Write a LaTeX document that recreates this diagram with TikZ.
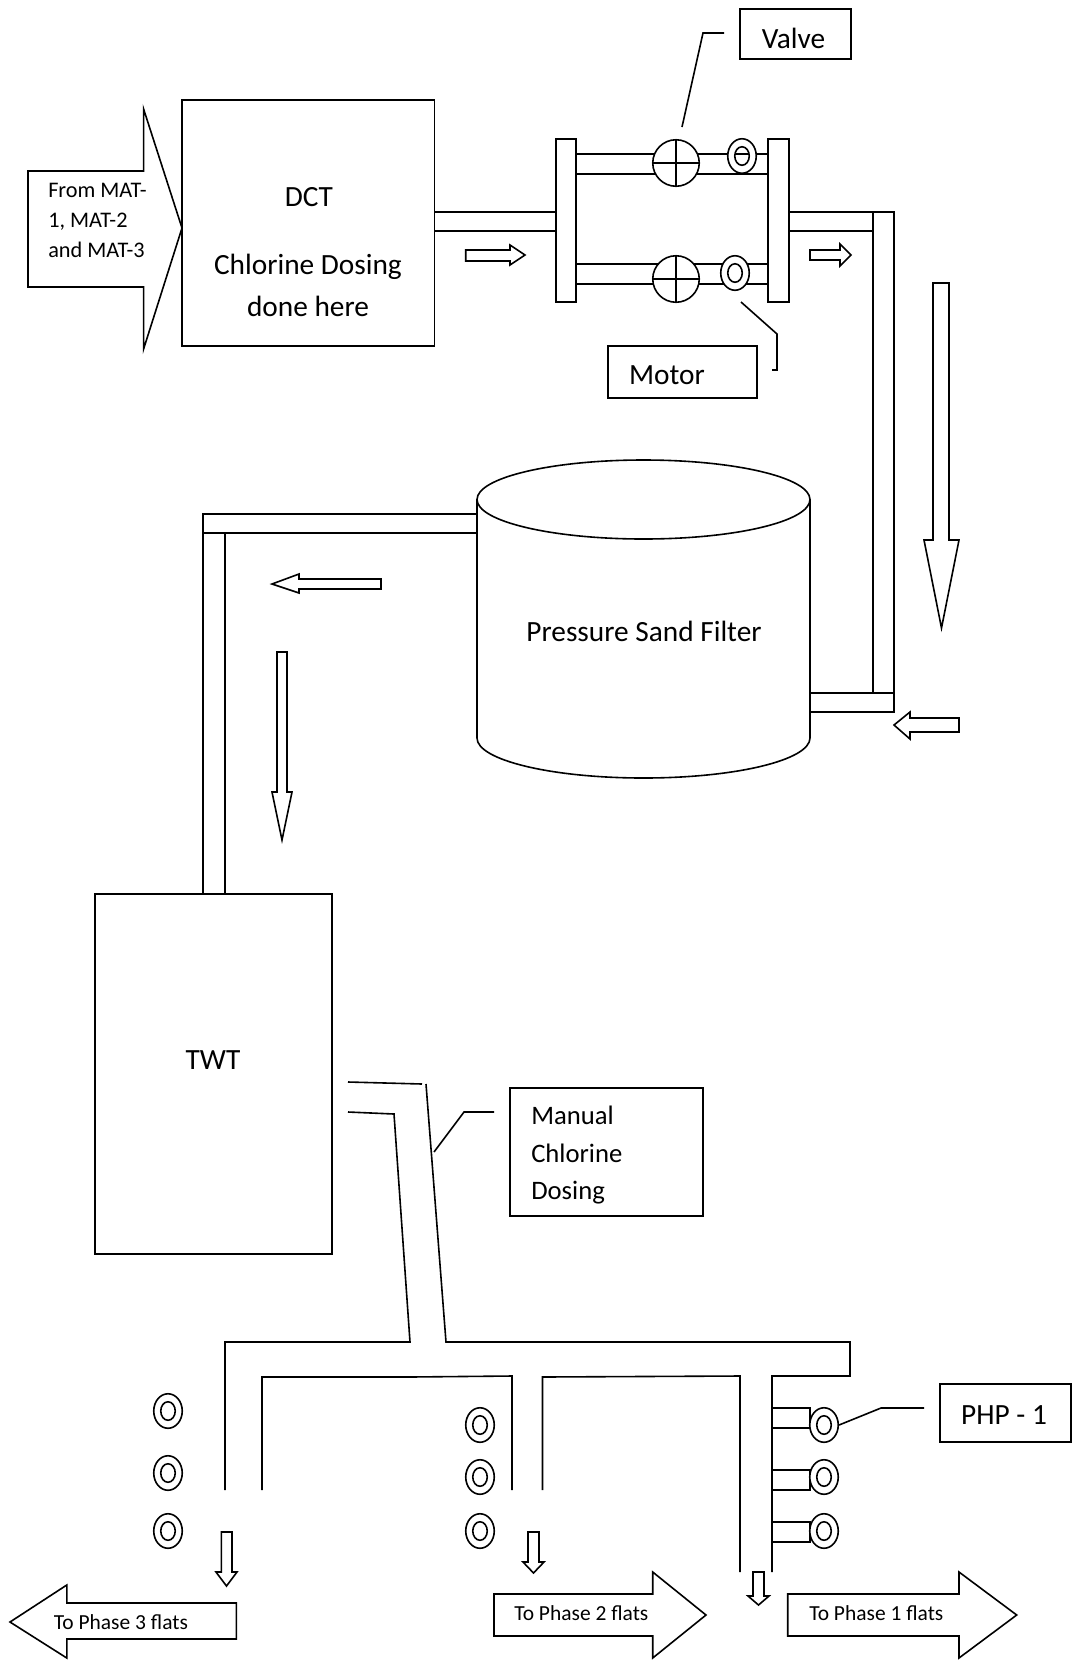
\documentclass[tikz,border=0pt]{standalone}
\usepackage{fontspec}
\setmainfont{Carlito}
\tikzset{
  pipe/.style={line width=1.2pt,line join=miter,fill=white},
  wire/.style={line width=1.2pt,line join=miter},
  boxn/.style={draw,line width=1.2pt,fill=white,inner sep=0pt},
  lab/.style={inner sep=0pt,anchor=base,font=\fontsize{22}{22}\selectfont},
  labl/.style={inner sep=0pt,anchor=base west,font=\fontsize{20}{20}\selectfont},
  smalll/.style={inner sep=0pt,anchor=base west,font=\fontsize{16.7}{16.7}\selectfont},
  phasel/.style={inner sep=0pt,anchor=base west,font=\fontsize{16.1}{16.1}\selectfont},
  pumpo/.style={draw,ellipse,line width=1.2pt,fill=white,inner sep=0pt,minimum width=28.5*0.75pt,minimum height=34.5*0.75pt},
  pumpi/.style={draw,ellipse,line width=1.2pt,fill=white,inner sep=0pt,minimum width=14.5*0.75pt,minimum height=18.5*0.75pt},
  valvec/.style={draw,circle,line width=1.2pt,fill=white,inner sep=0pt,minimum size=46.5*0.75pt},
}
\usetikzlibrary{shapes.geometric}
\newcommand{\pumpat}[3]{\node[pumpo] (#1) at (#2,#3) {};\node[pumpi] (#1i) at (#2,#3) {};}
\begin{document}
\begin{tikzpicture}[x=0.75pt,y=-0.75pt]
\useasboundingbox (0,0) rectangle (1072,1664);

% inlet arrow
\draw[pipe] (28,171)--(143.6,171)--(143.6,109)--(182,228)--(143.6,349)--(143.6,287)--(28,287)--cycle;
\node[smalll] (from1) at (48,197) {From MAT-};
\node[smalll] (from2) at (48,227) {1, MAT-2};
\node[smalll] (from3) at (48,257) {and MAT-3};

% DCT
\node[boxn,minimum width=252.6*0.75pt,minimum height=246*0.75pt] (dct) at (308.3,223) {};
\node[lab] (dct1) at (309,206.7) {DCT};
\node[lab] (dct2) at (308,274) {Chlorine Dosing};
\node[lab] (dct3) at (308,316) {done here};

% pipe DCT to headers
\draw[wire] (434.6,212)--(556,212) (434.6,231)--(556,231);
\draw[pipe] (465.7,250)--(510,250)--(510,245)--(525,255)--(510,265)--(510,261)--(465.7,261)--cycle;

% branches
\draw[wire] (576,154)--(768,154) (576,174)--(768,174);
\draw[wire] (576,264)--(768,264) (576,284)--(768,284);
\draw[pipe] (556,139) rectangle (576,302);
\draw[pipe] (768,139) rectangle (789,302);

% valves
\foreach \n/\y in {va/163,vb/279}{
  \node[valvec] (\n) at (676,\y) {};
  \draw[wire] (\n.north)--(\n.south) (\n.west)--(\n.east);
}
\pumpat{ma}{742}{156}
\draw[wire] (735,154)--(749,154);
\pumpat{mb}{735}{273}

% valve label
\node[boxn,minimum width=111*0.75pt,minimum height=50*0.75pt] (valve) at (795.5,34) {};
\node[lab] (valvet) at (793.5,48) {Valve};
\coordinate (vl1) at (724,33);
\coordinate (vl2) at (703,33);
\coordinate (vl3) at (682,127);
\draw[wire] (vl1)--(vl2)--(vl3);

% motor label
\node[boxn,minimum width=149*0.75pt,minimum height=52*0.75pt] (motor) at (682.5,372) {};
\node[lab] (motort) at (667,384) {Motor};
\coordinate (ml1) at (741,302);
\coordinate (ml2) at (777,334);
\coordinate (ml3) at (777,370);
\coordinate (ml4) at (772,370);
\draw[wire] (ml1)--(ml2)--(ml3)--(ml4);

% right pipe
\draw[wire] (789,212)--(894,212)--(894,712)--(810,712);
\draw[wire] (789,231)--(873,231);
\draw[wire] (873,212)--(873,693);
\draw[wire] (810,693)--(894,693);
\draw[pipe] (810,250)--(840,250)--(840,244)--(851,255)--(840,266)--(840,260)--(810,260)--cycle;
\draw[pipe] (933,283)--(949,283)--(949,540)--(959,540)--(941.5,628)--(924,540)--(933,540)--cycle;
\draw[pipe] (959,718)--(910,718)--(910,712)--(894,725)--(910,739)--(910,732)--(959,732)--cycle;

% filter
\draw[pipe] (477,499.5)--(477,738) arc[start angle=180,end angle=360,x radius=166.5,y radius=-40]--(810,499.5);
\draw[pipe] (643.5,499.5) ellipse[x radius=166.5,y radius=39.5];
\node[lab] (psf) at (644,641) {Pressure Sand Filter};

% left pipe
\draw[pipe] (203,514) rectangle (477,533);
\draw[pipe] (203,533) rectangle (225,894);
\draw[pipe] (381,579)--(299,579)--(299,574)--(272,584)--(299,593)--(299,589)--(381,589)--cycle;
\draw[pipe] (277,652)--(287,652)--(287,792)--(292,792)--(282,840)--(272,792)--(277,792)--cycle;

% TWT
\node[boxn,minimum width=237*0.75pt,minimum height=360*0.75pt] (twt) at (213.5,1074) {};
\node[lab] (twtt) at (213,1069) {TWT};

% distribution pipes
\draw[wire] (348,1082)--(422,1084);
\draw[wire] (348,1112)--(394,1114)--(410,1342)--(225,1342)--(225,1490);
\draw[wire] (426,1084)--(446,1342)--(850,1342)--(850,1376)--(772,1376)--(772,1572);
\draw[wire] (262,1490)--(262,1377)--(410,1377)--(512,1376)--(512,1490);
\draw[wire] (542.5,1490)--(542.5,1377)--(740,1376)--(740,1572);

% manual chlorine dosing
\node[boxn,minimum width=193*0.75pt,minimum height=128*0.75pt] (manual) at (606.5,1152) {};
\node[labl] (man1) at (531,1124) {Manual};
\node[labl] (man2) at (531,1162) {Chlorine};
\node[labl] (man3) at (531,1199) {Dosing};
\coordinate (mc1) at (434,1152);
\coordinate (mc2) at (464,1112);
\coordinate (mc3) at (494,1112);
\draw[wire] (mc1)--(mc2)--(mc3);

% pumps
\pumpat{pa}{168}{1411}
\pumpat{pb}{168}{1473}
\pumpat{pc}{168}{1531}
\pumpat{pd}{480}{1425}
\pumpat{pe}{480}{1477}
\pumpat{pf}{480}{1531}
\draw[pipe] (772,1408) rectangle (810,1428);
\draw[pipe] (772,1470) rectangle (810,1490);
\draw[pipe] (772,1522) rectangle (810,1542);
\pumpat{pg}{824}{1425}
\pumpat{ph}{824}{1477}
\pumpat{pi}{824}{1531}

% PHP label
\node[boxn,minimum width=131*0.75pt,minimum height=58*0.75pt] (php) at (1005.5,1413) {};
\node[lab] (phpt) at (1004,1424) {PHP - 1};
\coordinate (pl2) at (881,1408);
\coordinate (pl3) at (924,1408);
\draw[wire] (pg.east)--(pl2)--(pl3);

% down arrows
\draw[pipe] (221.4,1532)--(232,1532)--(232,1572)--(237,1572)--(226.5,1586)--(216,1572)--(221.4,1572)--cycle;
\draw[pipe] (528,1532)--(539,1532)--(539,1562)--(544,1562)--(533.5,1573)--(523,1562)--(528,1562)--cycle;
\draw[pipe] (753,1572)--(764,1572)--(764,1596)--(769,1596)--(758.5,1605)--(748,1596)--(753,1596)--cycle;

% phase arrows
\draw[pipe] (236.4,1603)--(66.8,1603)--(66.8,1585)--(10,1622)--(66.8,1658)--(66.8,1639)--(236.4,1639)--cycle;
\node[phasel] (ph3) at (53.6,1629) {To Phase 3 flats};
\draw[pipe] (494,1594)--(652.7,1594)--(652.7,1572)--(706,1615)--(652.7,1658)--(652.7,1636)--(494,1636)--cycle;
\node[phasel] (ph2) at (514,1620) {To Phase 2 flats};
\draw[pipe] (787.7,1594)--(959,1594)--(959,1572)--(1016.7,1615)--(959,1658)--(959,1636)--(787.7,1636)--cycle;
\node[phasel] (ph1) at (809,1620) {To Phase 1 flats};
\end{tikzpicture}
\end{document}
